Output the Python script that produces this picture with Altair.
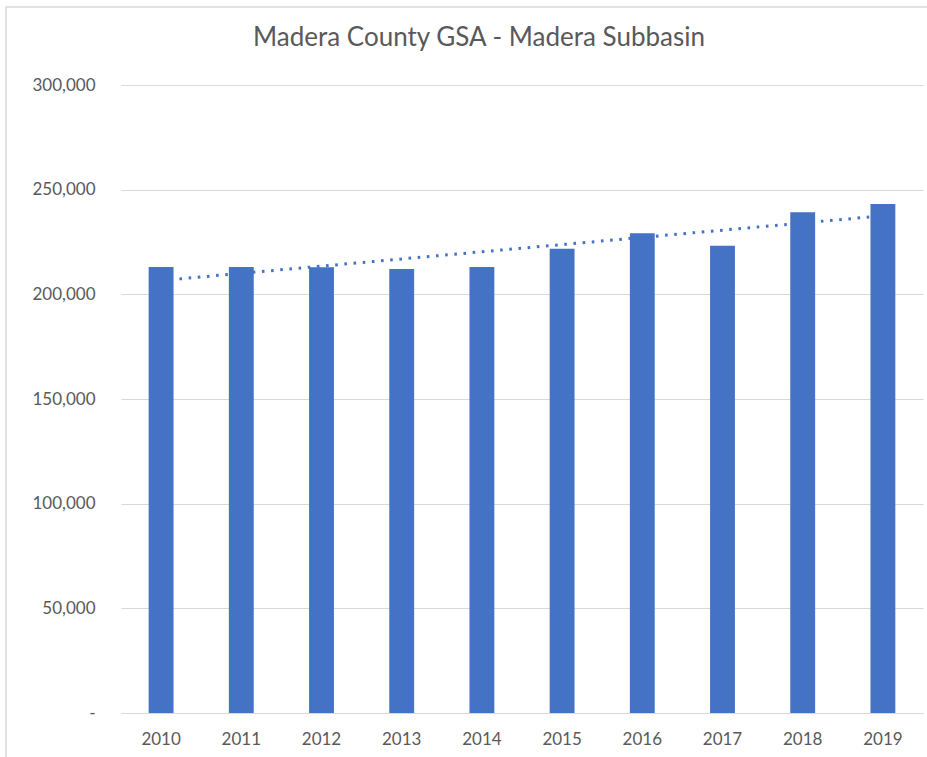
import altair as alt
import pandas as pd

years = [2010, 2011, 2012, 2013, 2014, 2015, 2016, 2017, 2018, 2019]
values = [213000, 213000, 212900, 212100, 213000, 221800, 229200, 223200, 239200, 243200]
y_ticks = [0, 50000, 100000, 150000, 200000, 250000, 300000]
title_text = "Madera County GSA - Madera Subbasin"

df = pd.DataFrame({"year": years, "value": values})

BLUE = "#4472C4"
GRAY = "#595959"
GRID = "#d9d9d9"
FONT = "Lato"

x_enc = alt.X(
    "year:O",
    scale=alt.Scale(paddingInner=0.69, paddingOuter=0.345),
    axis=alt.Axis(
        title=None, labelAngle=0, ticks=False, domainColor=GRID, domainWidth=1,
        labelPadding=18, labelFontSize=17, labelColor=GRAY, labelFont=FONT,
    ),
)
y_enc = alt.Y(
    "value:Q",
    scale=alt.Scale(domain=[0, 300000], nice=False),
    axis=alt.Axis(
        title=None, values=y_ticks, ticks=False, domain=False,
        gridColor=GRID, gridWidth=1, labelPadding=26, labelFontSize=17,
        labelColor=GRAY, labelFont=FONT,
        labelExpr="datum.value == 0 ? '-\u00a0\u00a0\u00a0\u00a0' : format(datum.value, ',')",
    ),
)

base = alt.Chart(df)

trend = base.transform_regression("year", "value", method="linear").mark_line(
    color=BLUE, strokeWidth=3, strokeDash=[2.6, 6.6]
).encode(x=alt.X("year:O"), y=alt.Y("value:Q"))

bars = base.mark_bar(color=BLUE).encode(x=x_enc, y=y_enc)

border = alt.Chart(pd.DataFrame({"k": [0]})).mark_rect(
    filled=False, stroke=GRID, strokeWidth=1.5
).encode(
    x=alt.value(-115), x2=alt.value(812), y=alt.value(-78), y2=alt.value(690)
)

chart = alt.layer(bars, trend, border).properties(
    width=802,
    height=628,
    background="white",
    title=alt.TitleParams(
        title_text, fontSize=26, font=FONT, color=GRAY, fontWeight="normal",
        anchor="middle", dx=-43, offset=0, dy=66, baseline="alphabetic",
    ),
    autosize=alt.AutoSizeParams(type="none"),
    padding={"left": 121, "top": 85, "right": 4, "bottom": 44},
).configure_view(stroke=None, strokeWidth=0)

chart.save("out.html", embed_options={"renderer": "svg", "actions": False})
